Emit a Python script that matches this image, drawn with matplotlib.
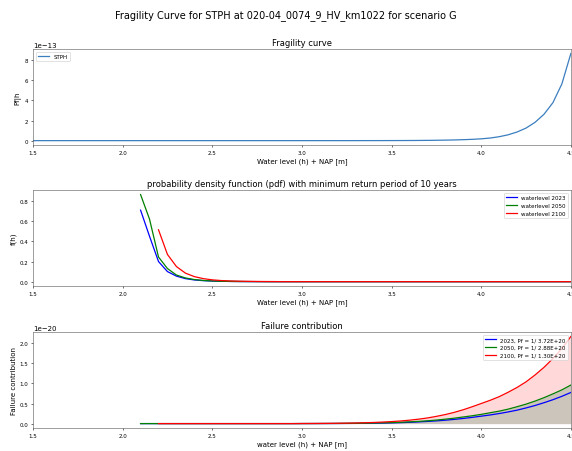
import numpy as np
import matplotlib
matplotlib.use("Agg")
import matplotlib.pyplot as plt

# ---- data -----------------------------------------------------------------
# Fragility curve: water level grid and conditional failure probability (x 1e-13)
frag_levels = np.round(np.arange(1.50, 4.5001, 0.05), 2)
frag_pf = [0.0] * 30 + [
    0.0002, 0.0003, 0.0004, 0.0006, 0.0008, 0.0012, 0.0017, 0.0024, 0.0034,
    0.0049, 0.007, 0.010, 0.014, 0.019, 0.027, 0.037, 0.051, 0.07, 0.095,
    0.13, 0.18, 0.26, 0.39, 0.58, 0.86, 1.25, 1.82, 2.62, 3.78, 5.65, 8.67,
]

# Probability density of the water level for each climate year
pdf_levels_a = np.round(np.arange(2.10, 4.5001, 0.05), 2)   # 2023 and 2050
pdf_levels_b = np.round(np.arange(2.20, 4.5001, 0.05), 2)   # 2100
pdf_2023 = [0.71, 0.45, 0.20, 0.10, 0.055, 0.03, 0.017, 0.010, 0.006, 0.0035,
            0.002, 0.0012, 0.0007, 0.0004] + [0.0] * 35
pdf_2050 = [0.865, 0.62, 0.245, 0.13, 0.066, 0.037, 0.021, 0.012, 0.007, 0.004,
            0.0025, 0.0015, 0.0009, 0.0005] + [0.0] * 35
pdf_2100 = [0.515, 0.27, 0.15, 0.085, 0.05, 0.03, 0.018, 0.011, 0.007, 0.0045,
            0.003, 0.002, 0.0013, 0.0008] + [0.0] * 33

# Failure contribution pdf * fragility (x 1e-20)
fc_2023 = [0.0] * 18 + [
    0.0006, 0.0009, 0.0013, 0.0018, 0.0026, 0.0036, 0.005, 0.007, 0.0095,
    0.013, 0.018, 0.024, 0.032, 0.042, 0.054, 0.068, 0.085, 0.105, 0.128,
    0.155, 0.185, 0.215, 0.25, 0.29, 0.335, 0.39, 0.45, 0.52, 0.595, 0.68, 0.775,
]
fc_2050 = [0.0] * 18 + [
    0.001, 0.0014, 0.002, 0.0028, 0.004, 0.0055, 0.0075, 0.010, 0.014,
    0.019, 0.025, 0.033, 0.043, 0.055, 0.07, 0.088, 0.11, 0.135, 0.165,
    0.195, 0.23, 0.27, 0.31, 0.36, 0.42, 0.485, 0.56, 0.645, 0.74, 0.84, 0.96,
]
fc_2100 = [0.0] * 16 + [
    0.0018, 0.0027, 0.004, 0.0055, 0.008, 0.011, 0.015, 0.021, 0.028,
    0.038, 0.05, 0.065, 0.085, 0.11, 0.14, 0.18, 0.225, 0.28, 0.345,
    0.42, 0.50, 0.58, 0.67, 0.78, 0.90, 1.04, 1.21, 1.40, 1.62, 1.87, 2.17,
]

years = ["2023", "2050", "2100"]
pf_return = ["3.72E+20", "2.88E+20", "1.30E+20"]
colors = ["blue", "green", "red"]

# ---- figure ---------------------------------------------------------------
fig = plt.figure(figsize=(11.44, 9.04), dpi=50)
fig.suptitle("Fragility Curve for STPH at 020-04_0074_9_HV_km1022 for scenario G",
             fontsize=14, y=0.978)

ax1 = fig.add_axes([0.0577, 0.677, 0.9403, 0.212])
ax2 = fig.add_axes([0.0577, 0.365, 0.9403, 0.212])
ax3 = fig.add_axes([0.0577, 0.051, 0.9403, 0.212])

LW = 1.8

# Fragility curve
ax1.plot(frag_levels, np.array(frag_pf) * 1e-13, color="#3a7ebf", lw=LW, label="STPH")
ax1.set_title("Fragility curve", fontsize=12)
ax1.set_xlabel("Water level (h) + NAP [m]")
ax1.set_ylabel("Pf|h")
ax1.legend(loc="upper left", fontsize=8)

# Probability density functions
pdf_x = [pdf_levels_a, pdf_levels_a, pdf_levels_b]
pdf_y = [pdf_2023, pdf_2050, pdf_2100]
for xs, ys, yr, c in zip(pdf_x, pdf_y, years, colors):
    ax2.plot(xs, ys, color=c, lw=LW, label=f"waterlevel {yr}")
ax2.set_title("probability density function (pdf) with minimum return period of 10 years",
              fontsize=12)
ax2.set_xlabel("Water level (h) + NAP [m]")
ax2.set_ylabel("f(h)")
ax2.legend(loc="upper right", fontsize=8)

# Failure contribution
fc_x = [pdf_levels_a, pdf_levels_a, pdf_levels_b]
fc_y = [fc_2023, fc_2050, fc_2100]
ax3.fill_between(pdf_levels_b, 0, np.array(fc_2100) * 1e-20, color="red", alpha=0.15, lw=0)
ax3.fill_between(pdf_levels_a, 0, np.array(fc_2050) * 1e-20, color="#cbc5bb", lw=0)
for xs, ys, yr, pf, c in zip(fc_x, fc_y, years, pf_return, colors):
    ax3.plot(xs, np.array(ys) * 1e-20, color=c, lw=LW, label=f"{yr}, Pf = 1/ {pf}")
ax3.set_title("Failure contribution", fontsize=12)
ax3.set_xlabel("water level (h) + NAP [m]")
ax3.set_ylabel("Failure contribution")
ax3.legend(loc="upper right", fontsize=8)

for ax in (ax1, ax2, ax3):
    ax.set_xlim(1.5, 4.5)
    ax.tick_params(labelsize=8)
    ax.xaxis.set_label_coords(0.5, -0.125)
    for s in ax.spines.values():
        s.set_color("#555555")

fig.savefig("out.png", dpi=50)
